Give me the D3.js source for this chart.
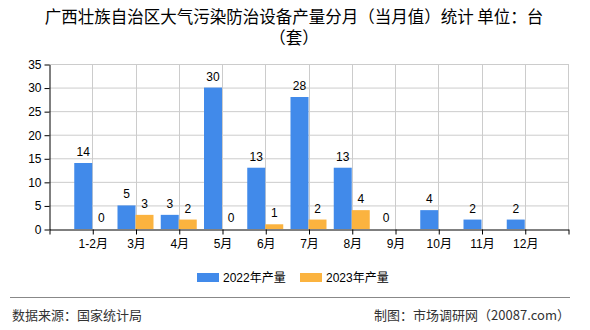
<!DOCTYPE html>
<html lang="zh">
<head>
<meta charset="utf-8">
<title>广西壮族自治区大气污染防治设备产量</title>
<script src="https://cdn.jsdelivr.net/npm/d3@7"></script>
<style>
  body { margin: 0; background: #fff; }
  text { font-family: "Liberation Sans", "Noto Sans CJK SC", sans-serif; }
  .cjk { font-family: "Noto Sans CJK SC", sans-serif; }
  .grid line { stroke: #cccccc; }
  .axis path, .axis line { stroke: #000; }
</style>
</head>
<body>
<script>
// data
var months = ["1-2月", "3月", "4月", "5月", "6月", "7月", "8月", "9月", "10月", "11月", "12月"];
var v2022 = [14, 5, 3, 30, 13, 28, 13, 0, 4, 2, 2];
var v2023 = [0, 3, 2, 0, 1, 2, 4, null, null, null, null];
var seriesNames = ["2022年产量", "2023年产量"];
var yTicks = [0, 5, 10, 15, 20, 25, 30, 35];

var W = 590, H = 330;
var plotL = 49, plotR = 568, plotT = 64, plotB = 229;
var barW = 18;
var colors = ["#418AEA", "#FBB33F"];

var svg = d3.select("body").append("svg").attr("width", W).attr("height", H);

// title, wrapped on two lines
var title = svg.append("text").attr("class", "cjk")
  .attr("text-anchor", "middle").style("font-size", "16.5px").attr("fill", "#000");
title.append("tspan").attr("x", 294).attr("y", 23).text("广西壮族自治区大气污染防治设备产量分月（当月值）统计 单位：台");
title.append("tspan").attr("x", 294).attr("y", 44).text("（套）");

// scales: positions 0..12, months sit on 1..11
var x = d3.scaleLinear().domain([0, months.length + 1]).range([plotL, plotR]);
var y = d3.scaleLinear().domain([0, 35]).range([plotB, plotT]);
var pos = d3.range(0, months.length + 2);

// grid
var grid = svg.append("g").attr("class", "grid");
grid.selectAll(".h").data(yTicks.slice(1)).enter().append("line")
  .attr("x1", plotL).attr("x2", plotR)
  .attr("y1", function(d) { return y(d) + 0.5; }).attr("y2", function(d) { return y(d) + 0.5; });
grid.selectAll(".v").data(pos.slice(1)).enter().append("line")
  .attr("x1", function(d) { return Math.round(x(d)) + 0.5; })
  .attr("x2", function(d) { return Math.round(x(d)) + 0.5; })
  .attr("y1", plotT).attr("y2", plotB);

// bars + value labels
var series = [v2022, v2023];
series.forEach(function(vals, s) {
  var g = svg.append("g");
  var data = vals.map(function(v, i) { return {v: v, i: i}; }).filter(function(d) { return d.v !== null; });
  g.selectAll("rect").data(data).enter().append("rect")
    .attr("x", function(d) { return x(d.i + 1) - (s === 0 ? barW : 0); })
    .attr("y", function(d) { return y(d.v); })
    .attr("width", barW)
    .attr("height", function(d) { return y(0) - y(d.v); })
    .attr("fill", colors[s]);
  g.selectAll("text").data(data).enter().append("text")
    .attr("x", function(d) { return x(d.i + 1) + (s === 0 ? -barW / 2 : barW / 2); })
    .attr("y", function(d) { return y(d.v) - 7; })
    .attr("text-anchor", "middle")
    .style("font-size", "12px")
    .text(function(d) { return d.v; });
});

// axes
var yAxis = d3.axisLeft(y).tickValues(yTicks).tickSize(5).tickSizeOuter(0).tickPadding(3);
svg.append("g").attr("class", "axis").attr("transform", "translate(" + (plotL + 0.5) + ",0.5)")
  .call(yAxis).selectAll("text").style("font-size", "12px").attr("fill", "#000");

var xAxis = d3.axisBottom(x).tickValues(pos).tickSize(5).tickSizeOuter(0).tickPadding(5)
  .tickFormat(function(d) { return months[d - 1] || ""; });
svg.append("g").attr("class", "axis").attr("transform", "translate(0.5," + (plotB + 0.5) + ")")
  .call(xAxis).selectAll("text").style("font-size", "12px").attr("fill", "#000");

// legend
var legend = svg.append("g");
var lx = [197, 300];
seriesNames.forEach(function(n, i) {
  legend.append("rect").attr("x", lx[i]).attr("y", 273).attr("width", 22).attr("height", 9).attr("fill", colors[i]);
  legend.append("text").attr("x", lx[i] + 26).attr("y", 282).style("font-size", "12px").text(n);
});

// footer
svg.append("line").attr("x1", 10).attr("x2", 570).attr("y1", 297.5).attr("y2", 297.5)
  .attr("stroke", "#888").attr("stroke-width", 1.2);
svg.append("text").attr("class", "cjk").attr("x", 12).attr("y", 320)
  .style("font-size", "13px").attr("fill", "#333").text("数据来源：国家统计局");
svg.append("text").attr("class", "cjk").attr("x", 570).attr("y", 320).attr("text-anchor", "end")
  .style("font-size", "13px").attr("fill", "#333").text("制图：市场调研网（20087.com）");
</script>
</body>
</html>
